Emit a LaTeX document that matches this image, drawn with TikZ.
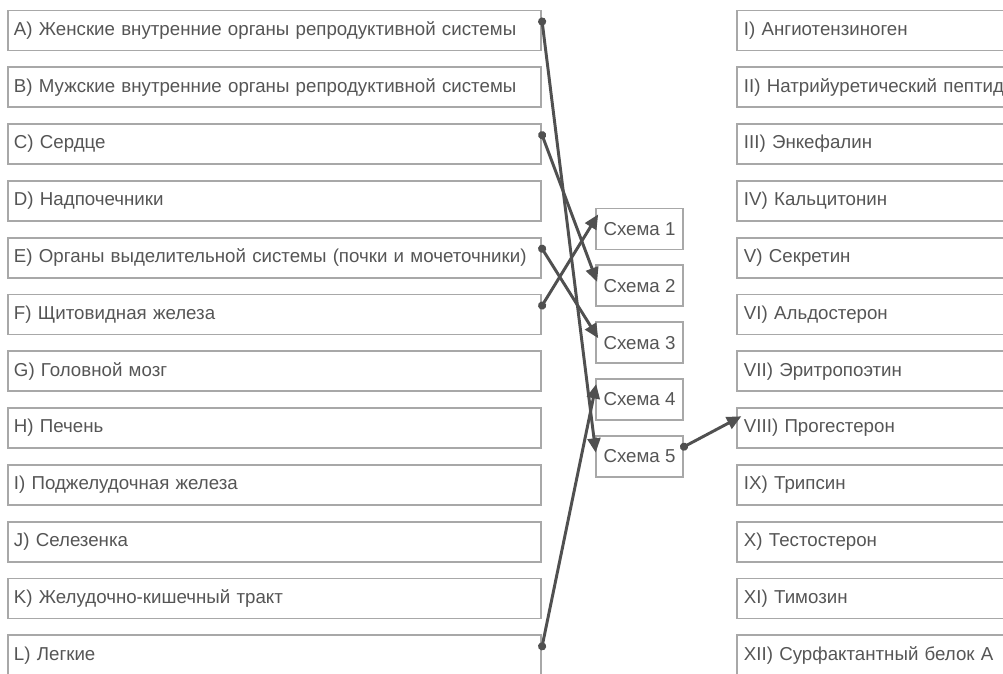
\documentclass[tikz,border=0pt]{standalone}
\usepackage{fontspec}
\setmainfont{Liberation Sans}
\usetikzlibrary{arrows.meta,positioning}
\definecolor{boxgray}{HTML}{A8A8A8}
\definecolor{txtgray}{HTML}{555555}
\definecolor{linegray}{HTML}{505050}

\begin{document}
\begin{tikzpicture}[x=0.025cm,y=-0.025cm,
  box/.style={draw=boxgray,line width=1.4pt,minimum height=1cm,anchor=north west,
    text=txtgray,font=\fontsize{13.3}{15}\selectfont},
  lbox/.style={box,minimum width=13.325cm,inner xsep=0.15cm,text width=13.025cm,align=left},
  rbox/.style={box,minimum width=10cm,inner xsep=0.175cm,text width=9.65cm,align=left},
  sbox/.style={box,minimum width=2.175cm,minimum height=1.025cm},
  conn/.style={draw=linegray,line width=2.1pt,
    {Circle[length=0.2cm]}-{Triangle[length=0.36cm,width=0.32cm]},
    shorten <=-0.1cm,shorten >=-0.15cm}]
\useasboundingbox (0,0) rectangle (1003,673);
\clip (0,0) rectangle (1003,673);

%% left column: organs
\foreach \n/\t [count=\i from 0] in {A/{A) Женские внутренние органы репродуктивной системы},
  B/{B) Мужские внутренние органы репродуктивной системы},
  C/{C) Сердце}, D/{D) Надпочечники},
  E/{E) Органы выделительной системы (почки и мочеточники)},
  F/{F) Щитовидная железа}, G/{G) Головной мозг}, H/{H) Печень},
  I/{I) Поджелудочная железа}, J/{J) Селезенка},
  K/{K) Желудочно-кишечный тракт}, L/{L) Легкие}}
  \node[lbox] (l\n) at (7,9.5+56.8*\i) {\t};

%% right column: hormones
\foreach \t [count=\i] in {I) Ангиотензиноген, II) Натрийуретический пептид,
  III) Энкефалин, IV) Кальцитонин, V) Секретин, VI) Альдостерон,
  VII) Эритропоэтин, VIII) Прогестерон, IX) Трипсин, X) Тестостерон,
  XI) Тимозин, XII) Сурфактантный белок А}
  \node[rbox] (r\i) at (736,9.5+56.8*\i-56.8) {\t};

%% middle: schemes
\foreach \i in {1,...,5}
  \node[sbox] (s\i) at (595,207.5+56.8*\i-56.8) {Схема \i};

%% connectors
\draw[conn] ([yshift=-0.3cm]lA.north east) -- ([yshift=-0.3cm]s5.north west);
\draw[conn] ([yshift=-0.3cm]lC.north east) -- ([yshift=-0.3cm]s2.north west);
\draw[conn] ([yshift=-0.3cm]lE.north east) -- ([yshift=-0.3cm]s3.north west);
\draw[conn] ([yshift=-0.3cm]lF.north east) -- ([yshift=-0.3cm]s1.north west);
\draw[conn] ([yshift=-0.3cm]lL.north east) -- ([yshift=-0.3cm]s4.north west);
\draw[conn] ([yshift=-0.3cm]s5.north east) -- ([yshift=-0.3cm]r8.north west);
\end{tikzpicture}
\end{document}
